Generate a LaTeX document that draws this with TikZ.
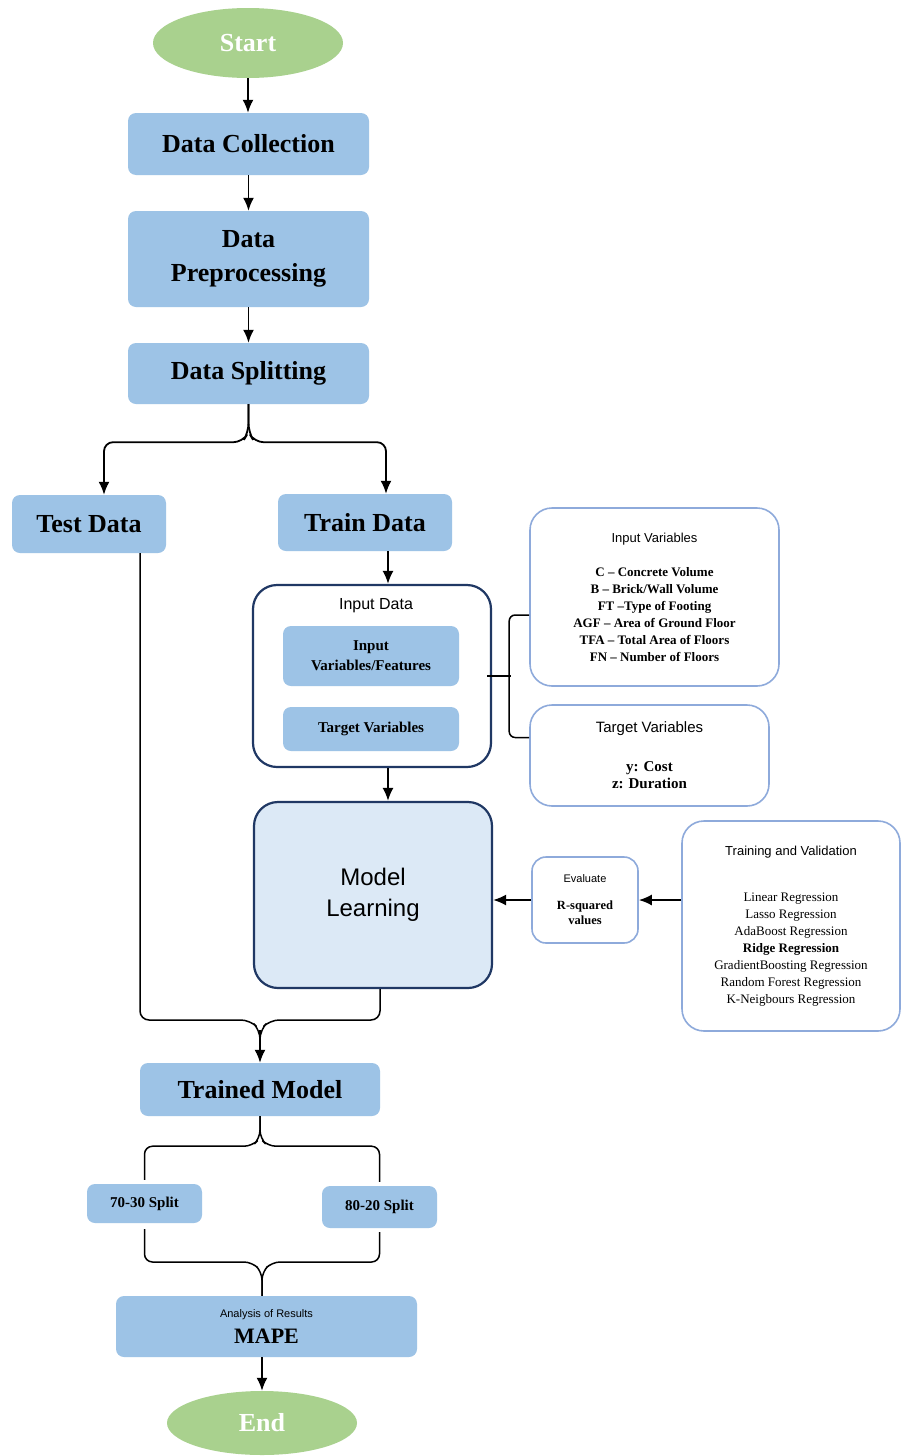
\documentclass[tikz,border=0pt]{standalone}
\usepackage{fontspec}
\setmainfont{Liberation Serif}
\setsansfont{Liberation Sans}
\usetikzlibrary{shapes.geometric,arrows.meta,calc}

\definecolor{boxblue}{HTML}{9DC3E6}
\definecolor{paleblue}{HTML}{DCE9F6}
\definecolor{navy}{HTML}{203864}
\definecolor{edgeblue}{HTML}{8EAADB}
\definecolor{termgreen}{HTML}{A9D18E}

\tikzstyle{every node}=[inner sep=0pt, align=center]
\tikzstyle{proc}=[fill=boxblue, rounded corners=8pt, font=\fontsize{26}{34}\selectfont\bfseries]
\tikzstyle{term}=[ellipse, fill=termgreen, text=white, font=\fontsize{26}{30}\selectfont\bfseries]
\tikzstyle{note}=[draw=edgeblue, line width=1.6pt, fill=white, rounded corners=22pt]
\tikzstyle{group}=[draw=navy, line width=2.2pt, fill=white, rounded corners=24pt]
\tikzstyle{arr}=[line width=1.8pt, -{Latex[length=13pt,width=11pt]}]
\tikzstyle{link}=[line width=1.5pt]

\begin{document}
\begin{tikzpicture}[x=1pt, y=-1pt]
  \fill[white] (0,0) rectangle (902,1456);
  \useasboundingbox (0,0) rectangle (902,1456);

  % main column
  \node[term, minimum width=190pt, minimum height=70pt] (start) at (248,43) {Start};
  \node[proc, minimum width=241pt, minimum height=62pt] (collect) at (248.5,144) {Data Collection};
  \node[proc, minimum width=241pt, minimum height=96pt] (prep) at (248.5,259) {Data\\Preprocessing};
  \node[proc, minimum width=241pt, minimum height=61pt] (split) at (248.5,373.5) {Data Splitting};
  \node[proc, minimum width=154pt, minimum height=58pt] (test) at (89,524) {Test Data};
  \node[proc, minimum width=174pt, minimum height=57pt] (train) at (365,522.5) {Train Data};

  % input data group
  \node[group, minimum width=238pt, minimum height=182pt] (inputdata) at (372,676) {};
  \node[font=\sffamily\fontsize{16}{19}\selectfont] (indlbl) at (376,606) {Input Data};
  \node[proc, font=\fontsize{15}{20}\selectfont\bfseries, minimum width=176pt, minimum height=60pt] (features) at (371,656) {Input\\Variables/Features};
  \node[proc, font=\fontsize{15}{20}\selectfont\bfseries, minimum width=176pt, minimum height=44pt] (target) at (371,729) {Target Variables};

  % side notes
  \node[note, minimum width=249pt, minimum height=178pt, font=\fontsize{13}{17}\selectfont\bfseries] (invars) at (654.5,597)
    {{\sffamily\mdseries Input Variables}\\[17pt]
     C -- Concrete Volume\\
     B -- Brick/Wall Volume\\
     FT --Type of Footing\\
     AGF -- Area of Ground Floor\\
     TFA -- Total Area of Floors\\
     FN -- Number of Floors};
  \node[note, minimum width=239pt, minimum height=101pt, font=\fontsize{15}{17}\selectfont\bfseries] (tgtvars) at (649.5,755.5)
    {{\sffamily\mdseries Target Variables}\\[22pt] y: Cost\\ z: Duration};

  % model learning
  \node[group, fill=paleblue, minimum width=238pt, minimum height=186pt, font=\sffamily\fontsize{24}{31}\selectfont] (model) at (373,895) {Model\\Learning};
  \node[note, rounded corners=14pt, minimum width=106pt, minimum height=86pt, font=\fontsize{12.5}{15}\selectfont\bfseries] (evaluate) at (585,900)
    {{\sffamily\mdseries\fontsize{11}{13}\selectfont Evaluate}\\[12pt] R-squared\\values};
  \node[note, minimum width=218pt, minimum height=210pt, font=\fontsize{13}{17}\selectfont] (trainval) at (791,926)
    {{\sffamily Training and Validation}\\[29pt]
     Linear Regression\\
     Lasso Regression\\
     AdaBoost Regression\\
     \textbf{Ridge Regression}\\
     GradientBoosting Regression\\
     Random Forest Regression\\
     K-Neigbours Regression};

  % results
  \node[proc, minimum width=240pt, minimum height=53pt] (trained) at (260,1089.5) {Trained Model};
  \node[proc, font=\fontsize{15}{18}\selectfont\bfseries, minimum width=115pt, minimum height=39pt] (s70) at (144.5,1203.5) {70-30 Split};
  \node[proc, font=\fontsize{15}{18}\selectfont\bfseries, minimum width=115pt, minimum height=42pt] (s80) at (379.5,1207) {80-20 Split};
  \node[proc, minimum width=301pt, minimum height=61pt, font=\fontsize{22}{26}\selectfont\bfseries] (mape) at (266.5,1326.5)
    {{\sffamily\mdseries\fontsize{11}{13}\selectfont Analysis of Results}\\MAPE};
  \node[term, minimum width=190pt, minimum height=64pt] (end) at (262,1423) {End};

  % junctions
  \coordinate (j1) at (260,1030);
  \coordinate (j3) at (262,1272);

  % connectors
  \draw[arr] (start.south) -- (start.south |- collect.north);
  \draw[arr] (collect.south) -- (prep.north);
  \draw[arr] (prep.south) -- (split.north);
  \draw[arr, rounded corners=9pt] (split.south) -- ++(0,28) -- ++(-6,10) -| ([xshift=15pt]test.north);
  \draw[arr, rounded corners=9pt] (split.south) -- ++(0,28) -- ++(6,10) -| ([xshift=21pt]train.north);
  \draw[arr] ([xshift=23pt]train.south) -- ([xshift=23pt]train.south |- inputdata.north);
  \draw[arr] ([xshift=16pt]inputdata.south) -- ([xshift=16pt]inputdata.south |- model.north);

  \draw[link] ($(inputdata.east)+(-5,0)$) -- ++(24,0);
  \draw[link, rounded corners=6pt] ($(invars.west)+(0,18)$) -- ++(-20,0) -- ($(tgtvars.west)+(-20,-18)$) -- ($(tgtvars.west)+(0,-18)$);

  \draw[arr] (evaluate.east -| trainval.west) -- (evaluate.east);
  \draw[arr] (evaluate.west) -- (evaluate.west -| model.east);

  \draw[link, rounded corners=9pt] ([xshift=51pt]test.south) |- ($(j1)+(-10,-10)$) -- (j1) -- ++(0,10);
  \draw[link, rounded corners=9pt] ([xshift=7pt]model.south) |- ($(j1)+(10,-10)$) -- (j1) -- ++(0,10);
  \draw[arr] (j1) -- (j1 |- trained.north);

  \draw[link, rounded corners=8pt] (trained.south) -- ++(0,22) -- ++(-8,8) -| ($(s70.north)+(0,-4)$);
  \draw[link, rounded corners=8pt] (trained.south) -- ++(0,22) -- ++(8,8) -| ($(s80.north)+(0,-4)$);
  \draw[link, rounded corners=8pt] ($(s70.south)+(0,6)$) |- ($(j3)+(-10,-10)$) -- (j3) -- (j3 |- mape.north);
  \draw[link, rounded corners=8pt] ($(s80.south)+(0,4)$) |- ($(j3)+(10,-10)$) -- (j3) -- (j3 |- mape.north);
  \draw[arr] (end.north |- mape.south) -- (end.north);
\end{tikzpicture}
\end{document}
